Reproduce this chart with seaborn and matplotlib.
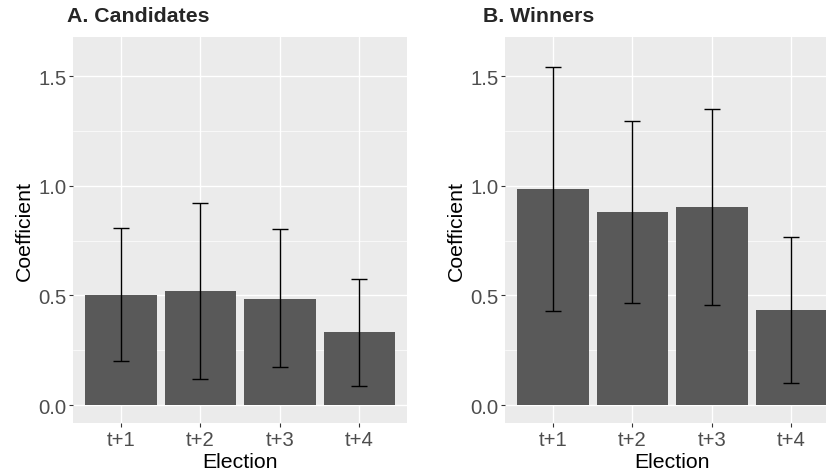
import matplotlib
matplotlib.use("Agg")
import matplotlib.pyplot as plt
import numpy as np
import pandas as pd
import seaborn as sns

# Estimated coefficients with 95% confidence bounds for later elections
elections = ["t+1", "t+2", "t+3", "t+4"]

cand_coef = [0.503, 0.518, 0.485, 0.331]
cand_low = [0.199, 0.120, 0.172, 0.087]
cand_high = [0.807, 0.921, 0.801, 0.573]

win_coef = [0.983, 0.880, 0.901, 0.432]
win_low = [0.430, 0.467, 0.456, 0.100]
win_high = [1.540, 1.295, 1.348, 0.766]

y_ticks = [0.0, 0.5, 1.0, 1.5]
y_minor = [0.25, 0.75, 1.25]

sns.set_theme(style="darkgrid")
plt.rcParams["font.family"] = ["Liberation Sans", "DejaVu Sans"]

BG = "#EBEBEB"
BAR = "#595959"
TICK_TXT = "#4D4D4D"

fig = plt.figure(figsize=(8.26, 4.77), dpi=100)
ax_a = fig.add_axes([73.3 / 826, 53 / 477, 333.7 / 826, 385.7 / 477])
ax_b = fig.add_axes([505.3 / 826, 53 / 477, 333.7 / 826, 385.7 / 477])


def draw_panel(ax, coef, low, high):
    df = pd.DataFrame({"Election": elections, "Coefficient": coef})
    sns.barplot(data=df, x="Election", y="Coefficient", ax=ax, color=BAR,
                width=0.9, linewidth=0, saturation=1, errorbar=None, zorder=2)
    x = np.arange(len(elections))
    c = np.array(coef)
    yerr = [c - np.array(low), np.array(high) - c]
    ax.errorbar(x, c, yerr=yerr, fmt="none", ecolor="black", elinewidth=1.0,
                capsize=6, capthick=1.0, zorder=3)

    ax.set_facecolor(BG)
    ax.set_xlim(-0.6, 3.6)
    ax.set_ylim(-0.082, 1.677)
    ax.set_yticks(y_ticks)
    ax.set_yticklabels([f"{v:.1f}" for v in y_ticks])
    ax.set_yticks(y_minor, minor=True)
    ax.grid(which="major", color="white", linewidth=1.0, zorder=0)
    ax.grid(which="minor", axis="y", color="white", linewidth=0.5, zorder=0)
    ax.set_axisbelow(True)
    for s in ax.spines.values():
        s.set_visible(False)
    ax.tick_params(axis="both", which="major", length=3, width=0.8,
                   color="#333333", labelsize=14.6, labelcolor=TICK_TXT, pad=2,
                   left=True, bottom=True)
    ax.tick_params(axis="y", which="minor", length=0)
    ax.set_xlabel("Election", fontsize=15.3, color="black", labelpad=2)
    ax.set_ylabel("Coefficient", fontsize=15.3, color="black", labelpad=3)


draw_panel(ax_a, cand_coef, cand_low, cand_high)
draw_panel(ax_b, win_coef, win_low, win_high)

fig.text(66.7 / 826, 1 - 16.5 / 477, "A. Candidates", fontsize=15.3,
         fontweight="bold", ha="left", va="center")
fig.text(483 / 826, 1 - 16.5 / 477, "B. Winners", fontsize=15.3,
         fontweight="bold", ha="left", va="center")

fig.savefig("out.png", dpi=100, facecolor="white")
